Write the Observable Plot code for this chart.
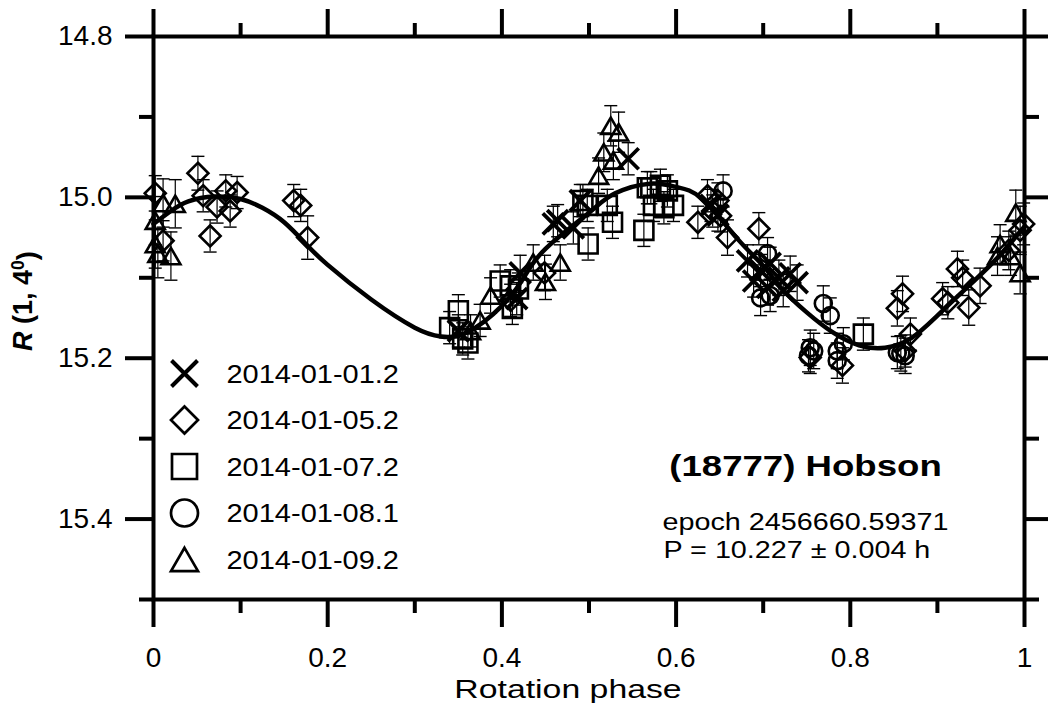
<!DOCTYPE html>
<html>
<head>
<meta charset="utf-8">
<script src="https://cdn.jsdelivr.net/npm/d3@7"></script>
<script src="https://cdn.jsdelivr.net/npm/@observablehq/plot@0.6"></script>
<style>
  html, body { margin: 0; padding: 0; background: #fff; }
  #chart { width: 1048px; height: 708px; }
  #chart svg { font-family: "Liberation Sans", Arial, sans-serif; }
</style>
</head>
<body>
<div id="chart"></div>
<script>
// Observing sessions (legend labels)
const sessions = ["2014-01-01.2", "2014-01-05.2", "2014-01-07.2", "2014-01-08.1", "2014-01-09.2"];

// Photometry per session: [rotation phase, R(1,4°) magnitude, 1-sigma error]
const s0101 = [
  [0.350, 15.166, 0.020], [0.417, 15.126, 0.020], [0.421, 15.094, 0.022],
  [0.459, 15.033, 0.022], [0.464, 15.029, 0.020], [0.482, 15.038, 0.020],
  [0.490, 15.004, 0.020], [0.545, 14.952, 0.020], [0.640, 15.010, 0.020],
  [0.648, 15.022, 0.020], [0.682, 15.079, 0.020], [0.689, 15.104, 0.020],
  [0.697, 15.091, 0.020], [0.705, 15.112, 0.022], [0.708, 15.082, 0.020],
  [0.718, 15.100, 0.022], [0.723, 15.116, 0.020], [0.731, 15.095, 0.022],
  [0.739, 15.106, 0.022]
];
const s0105 = [
  [0.002, 14.995, 0.022], [0.011, 15.054, 0.025], [0.051, 14.970, 0.021],
  [0.057, 14.998, 0.020], [0.065, 15.048, 0.020], [0.073, 15.012, 0.020],
  [0.083, 14.992, 0.020], [0.088, 15.017, 0.020], [0.096, 14.994, 0.020],
  [0.161, 15.004, 0.020], [0.169, 15.010, 0.020], [0.177, 15.050, 0.027],
  [0.410, 15.128, 0.020], [0.449, 15.094, 0.022], [0.625, 15.031, 0.020],
  [0.636, 14.998, 0.020], [0.642, 15.017, 0.020], [0.648, 15.004, 0.022],
  [0.651, 15.023, 0.020], [0.659, 15.050, 0.022], [0.695, 15.039, 0.020],
  [0.754, 15.199, 0.020], [0.791, 15.209, 0.022], [0.854, 15.138, 0.022],
  [0.860, 15.120, 0.022], [0.863, 15.191, 0.020], [0.869, 15.170, 0.020],
  [0.906, 15.126, 0.020], [0.912, 15.131, 0.020], [0.923, 15.089, 0.022],
  [0.929, 15.100, 0.022], [0.936, 15.137, 0.022], [0.949, 15.110, 0.022],
  [0.982, 15.066, 0.024], [0.995, 15.041, 0.030], [0.999, 15.033, 0.026]
];
const s0107 = [
  [0.340, 15.162, 0.020], [0.350, 15.141, 0.020], [0.355, 15.176, 0.020],
  [0.361, 15.181, 0.020], [0.398, 15.104, 0.020], [0.410, 15.110, 0.020],
  [0.412, 15.138, 0.020], [0.419, 15.114, 0.020], [0.493, 15.004, 0.020],
  [0.498, 15.010, 0.020], [0.499, 15.058, 0.020], [0.521, 15.010, 0.020],
  [0.527, 15.031, 0.020], [0.563, 15.041, 0.020], [0.567, 14.988, 0.020],
  [0.571, 14.988, 0.020], [0.574, 15.010, 0.020], [0.582, 14.985, 0.020],
  [0.586, 15.013, 0.020], [0.590, 14.992, 0.020], [0.597, 15.010, 0.020],
  [0.815, 15.170, 0.020]
];
const s0108 = [
  [0.654, 14.992, 0.020], [0.697, 15.125, 0.022], [0.705, 15.070, 0.020],
  [0.708, 15.122, 0.020], [0.752, 15.197, 0.020], [0.754, 15.187, 0.022],
  [0.758, 15.191, 0.022], [0.769, 15.132, 0.022], [0.777, 15.147, 0.022],
  [0.785, 15.191, 0.022], [0.785, 15.203, 0.022], [0.792, 15.182, 0.020],
  [0.854, 15.193, 0.020], [0.858, 15.194, 0.022], [0.863, 15.197, 0.022]
];
const s0109 = [
  [0.002, 15.029, 0.030], [0.002, 15.058, 0.030], [0.005, 15.070, 0.030],
  [0.011, 15.007, 0.030], [0.020, 15.073, 0.030], [0.025, 15.008, 0.030],
  [0.364, 15.166, 0.020], [0.375, 15.153, 0.020], [0.387, 15.122, 0.022],
  [0.436, 15.081, 0.022], [0.450, 15.105, 0.022], [0.467, 15.081, 0.022],
  [0.511, 14.973, 0.022], [0.517, 14.944, 0.024], [0.525, 14.911, 0.025],
  [0.528, 14.954, 0.024], [0.534, 14.919, 0.025], [0.969, 15.073, 0.024],
  [0.972, 15.058, 0.024], [0.984, 15.073, 0.024], [0.990, 15.019, 0.028],
  [0.995, 15.094, 0.026]
];

// Fourier fit of the lightcurve, sampled along phase
const fitPhase = [0, 0.02, 0.04, 0.07, 0.10, 0.125, 0.15, 0.175, 0.20, 0.25, 0.30, 0.33, 0.36,
  0.40, 0.425, 0.45, 0.50, 0.53, 0.57, 0.60, 0.63, 0.67, 0.70, 0.72, 0.75, 0.78, 0.81, 0.84,
  0.87, 0.90, 0.94, 0.97, 1.0];
const fitMag = [15.033, 15.017, 15.005, 14.999, 15.002, 15.013, 15.031, 15.058, 15.084, 15.127,
  15.162, 15.173, 15.168, 15.135, 15.100, 15.064, 15.019, 14.995, 14.983, 14.987, 15.002,
  15.051, 15.085, 15.112, 15.143, 15.168, 15.184, 15.187, 15.175, 15.147, 15.106, 15.074, 15.036];

// Axis ticks
const xMajor = [0, 0.2, 0.4, 0.6, 0.8, 1];
const xMinor = [0.1, 0.3, 0.5, 0.7, 0.9];
const yMajor = [14.8, 15.0, 15.2, 15.4];
const yMinor = [14.9, 15.1, 15.3, 15.5];

// Open marker shapes, drawn from the radius Plot passes in (size = π r²)
const rad = (size) => Math.sqrt(size / Math.PI);
const shapes = [
  { draw(c, s) { const r = rad(s); c.moveTo(-r, -r); c.lineTo(r, r); c.moveTo(r, -r); c.lineTo(-r, r); } },
  { draw(c, s) { const r = rad(s); c.moveTo(0, -r); c.lineTo(r, 0); c.lineTo(0, r); c.lineTo(-r, 0); c.closePath(); } },
  { draw(c, s) { const r = rad(s); c.moveTo(-r, -r); c.lineTo(r, -r); c.lineTo(r, r); c.lineTo(-r, r); c.closePath(); } },
  { draw(c, s) { const r = rad(s); c.moveTo(r, 0); c.arc(0, 0, r, 0, 2 * Math.PI); } },
  { draw(c, s) { const r = rad(s); const h = r * Math.sqrt(3); c.moveTo(0, -h / 2); c.lineTo(r, h / 2); c.lineTo(-r, h / 2); c.closePath(); } }
];
const capShape = { draw(c, s) { const r = rad(s); c.moveTo(-r, 0); c.lineTo(r, 0); } };

const plotR = [10.5, 10.5, 9.5, 8.5, 9.5];
const plotSW = [3.8, 2.6, 2.6, 2.6, 2.6];
const legendR = [13, 13.5, 12.5, 13.5, 13.5];
const legendSW = [4, 2.7, 2.7, 2.7, 2.7];

const series = [s0101, s0105, s0107, s0108, s0109];
const rows = series.flatMap((pts, k) =>
  pts.map(([phase, mag, err]) => ({ k, session: sessions[k], phase, mag, err })));
const fit = fitPhase.map((phase, i) => ({ phase, mag: fitMag[i] }));

const legendMarks = sessions.flatMap((label, k) => [
  Plot.dot([label], { frameAnchor: "top-left", dx: 31, dy: 337 + k * 46.5, symbol: shapes[k],
    r: legendR[k], stroke: "#000", strokeWidth: legendSW[k], fill: "none" }),
  Plot.text([label], { frameAnchor: "top-left", dx: 73, dy: 338 + k * 46.5, text: (d) => d,
    textAnchor: "start", lineAnchor: "middle", fontSize: 25, fill: "#000", className: "stretch-leg" })
]);

const chart = Plot.plot({
  width: 1048,
  height: 708,
  marginLeft: 153,
  marginRight: 24,
  marginTop: 36,
  marginBottom: 109,
  style: { background: "#fff", color: "#000", fontFamily: "'Liberation Sans', Arial, sans-serif", overflow: "visible" },
  x: { domain: [0, 1] },
  y: { domain: [14.8, 15.5], reverse: true },
  marks: [
    // error bars
    Plot.ruleX(rows, { x: "phase", y1: (d) => d.mag - d.err, y2: (d) => d.mag + d.err, stroke: "#000", strokeWidth: 1.2 }),
    Plot.dot(rows, { x: "phase", y: (d) => d.mag - d.err, symbol: capShape, r: 6.5, stroke: "#000", strokeWidth: 1.4 }),
    Plot.dot(rows, { x: "phase", y: (d) => d.mag + d.err, symbol: capShape, r: 6.5, stroke: "#000", strokeWidth: 1.4 }),
    // fitted curve
    Plot.line(fit, { x: "phase", y: "mag", curve: "natural", stroke: "#000", strokeWidth: 4.5 }),
    // measurements, one mark per session
    ...series.map((_, k) => Plot.dot(rows.filter((d) => d.k === k), {
      x: "phase", y: "mag", symbol: shapes[k], r: plotR[k], stroke: "#000", strokeWidth: plotSW[k], fill: "none"
    })),
    // frame and tick marks on all four sides
    Plot.frame({ stroke: "#000", strokeWidth: 4 }),
    Plot.axisX(xMajor, { anchor: "bottom", tickSize: 28, tickPadding: 20, strokeWidth: 4, fontSize: 28,
      tickFormat: (d) => String(d), label: null }),
    Plot.axisX(xMinor, { anchor: "bottom", tickSize: 14, strokeWidth: 4, fill: "none", tickFormat: () => "", label: null }),
    Plot.axisX(xMajor, { anchor: "top", tickSize: 28, strokeWidth: 4, fill: "none", tickFormat: () => "", label: null }),
    Plot.axisX(xMinor, { anchor: "top", tickSize: 14, strokeWidth: 4, fill: "none", tickFormat: () => "", label: null }),
    Plot.axisY(yMajor, { anchor: "left", tickSize: 28, tickPadding: 13, strokeWidth: 4, fontSize: 28,
      tickFormat: d3.format(".1f"), label: null }),
    Plot.axisY(yMinor, { anchor: "left", tickSize: 14, strokeWidth: 4, fill: "none", tickFormat: () => "", label: null }),
    Plot.axisY(yMajor, { anchor: "right", tickSize: 28, strokeWidth: 4, fill: "none", tickFormat: () => "", label: null }),
    Plot.axisY(yMinor, { anchor: "right", tickSize: 14, strokeWidth: 4, fill: "none", tickFormat: () => "", label: null }),
    // axis titles
    Plot.text(["Rotation phase"], { frameAnchor: "bottom", dx: -21, dy: 90, text: (d) => d, fontSize: 26,
      lineAnchor: "middle", fill: "#000", className: "stretch-xl" }),
    Plot.text(["R (1, 4°)"], { frameAnchor: "left", dx: -130, dy: 33, text: (d) => d, rotate: -90,
      fontSize: 27, fontWeight: "bold", textAnchor: "start", lineAnchor: "middle", fill: "#000", className: "ylab" }),
    // legend
    ...legendMarks,
    // object annotation
    Plot.text(["(18777) Hobson"], { frameAnchor: "top-left", dx: 652, dy: 430, text: (d) => d, fontSize: 30,
      fontWeight: "bold", textAnchor: "middle", lineAnchor: "middle", fill: "#000", className: "stretch-title" }),
    Plot.text(["epoch 2456660.59371"], { frameAnchor: "top-left", dx: 509, dy: 486, text: (d) => d, fontSize: 23,
      textAnchor: "start", lineAnchor: "middle", fill: "#000", className: "stretch-note" }),
    Plot.text(["P = 10.227 ± 0.004 h"], { frameAnchor: "top-left", dx: 510, dy: 514, text: (d) => d, fontSize: 23,
      textAnchor: "start", lineAnchor: "middle", fill: "#000", className: "stretch-note" })
  ]
});

// Widen the label fonts horizontally
const widen = { "stretch-leg": 1.16, "stretch-title": 1.22, "stretch-note": 1.25, "stretch-xl": 1.3 };
for (const [cls, f] of Object.entries(widen)) {
  d3.select(chart).selectAll(`.${cls} text`).attr("transform", function () {
    return (this.getAttribute("transform") || "") + ` scale(${f},1)`;
  });
}

// Y title: italic R and a raised 0
d3.select(chart).selectAll(".ylab text").each(function () {
  const t = d3.select(this);
  t.attr("text-anchor", "start");
  t.text(null);
  t.append("tspan").attr("font-style", "italic").text("R");
  t.append("tspan").text(" (1, 4");
  t.append("tspan").attr("dy", "-0.45em").attr("font-size", "0.65em").text("0");
  t.append("tspan").attr("dy", "0.45em").text(")");
});

document.getElementById("chart").append(chart);
</script>
</body>
</html>
